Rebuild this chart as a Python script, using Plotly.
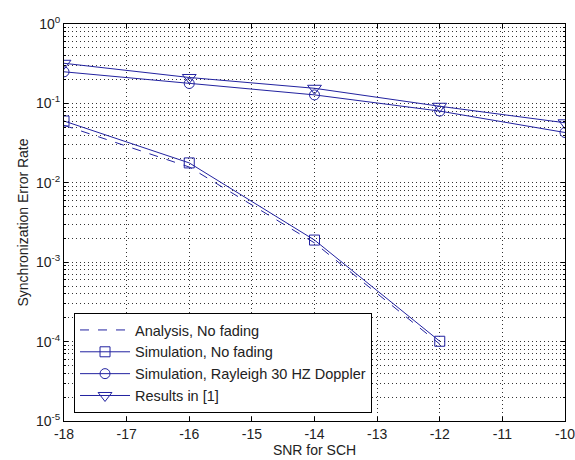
import plotly.graph_objects as go

snr = [-18, -16, -14, -12, -10]
snr_nofade = [-18, -16, -14, -12]
analysis_nofade = [0.053, 0.0158, 0.00175, 0.000093]
sim_nofade = [0.060, 0.0178, 0.0019, 0.000101]
sim_rayleigh = [0.25, 0.178, 0.128, 0.080, 0.043]
results_ref1 = [0.32, 0.212, 0.155, 0.092, 0.057]

ytick_vals = [1, 0.1, 0.01, 0.001, 0.0001, 0.00001]
ytick_text = ["10<sup>0</sup>", "10<sup>-1</sup>", "10<sup>-2</sup>", "10<sup>-3</sup>",
              "10<sup>-4</sup>", "10<sup>-5</sup>"]
xtick_vals = [-18, -17, -16, -15, -14, -13, -12, -11, -10]
xtick_text = ["-18", "-17", "-16", "-15", "-14", "-13", "-12", "-11", "-10"]

blue = "#2222a0"
grid = "#333333"
gdash = "1px,3px"
fig = go.Figure()
fig.add_trace(go.Scatter(x=snr_nofade, y=analysis_nofade, mode="lines",
                         name="Analysis, No fading",
                         line=dict(color=blue, width=1, dash="dash")))
fig.add_trace(go.Scatter(x=snr_nofade, y=sim_nofade, mode="lines+markers",
                         name="Simulation, No fading",
                         line=dict(color=blue, width=1),
                         marker=dict(symbol="square-open", size=10, color=blue, line=dict(width=1))))
fig.add_trace(go.Scatter(x=snr, y=sim_rayleigh, mode="lines+markers",
                         name="Simulation, Rayleigh 30 HZ Doppler",
                         line=dict(color=blue, width=1),
                         marker=dict(symbol="circle-open", size=10, color=blue, line=dict(width=1))))
fig.add_trace(go.Scatter(x=snr, y=results_ref1, mode="lines+markers",
                         name="Results in [1]",
                         line=dict(color=blue, width=1),
                         marker=dict(symbol="triangle-down-open", size=12, color=blue, line=dict(width=1))))

fam = "Liberation Sans, Arial, sans-serif"
fig.update_layout(
    width=575, height=460,
    margin=dict(l=64, r=10, t=24, b=39),
    paper_bgcolor="white", plot_bgcolor="white",
    font=dict(family=fam, size=12, color="#222"),
    showlegend=True,
    legend=dict(x=0.02, y=0.272, xanchor="left", yanchor="top",
                bgcolor="white", bordercolor="black", borderwidth=1,
                font=dict(family=fam, size=14.5, color="#222"),
                itemwidth=50, tracegroupgap=0),
    xaxis=dict(range=[-18, -10], tickvals=xtick_vals, ticktext=xtick_text,
               ticks="inside", ticklen=4, tickcolor="black",
               showline=True, linecolor="black", linewidth=1, mirror="ticks",
               showgrid=True, gridcolor=grid, griddash=gdash, gridwidth=1,
               zeroline=False, ticklabeloverflow="allow", automargin=False,
               title=dict(text="SNR for SCH", standoff=2, font=dict(size=14)),
               tickfont=dict(size=14)),
    yaxis=dict(type="log", range=[-5, 0], tickvals=ytick_vals, ticktext=ytick_text,
               ticks="inside", ticklen=4, tickcolor="black",
               showline=True, linecolor="black", linewidth=1, mirror="ticks",
               showgrid=True, gridcolor=grid, griddash=gdash, gridwidth=1,
               zeroline=False, automargin=False,
               minor=dict(dtick="D1", showgrid=True, gridcolor=grid, griddash=gdash,
                          ticks="inside", ticklen=2, tickcolor="black"),
               title=dict(text="Synchronization Error Rate", standoff=4, font=dict(size=14)),
               tickfont=dict(size=14)),
)
fig.write_html("out.html", config={"displayModeBar": False},
               post_script="document.body.style.margin='0';")
